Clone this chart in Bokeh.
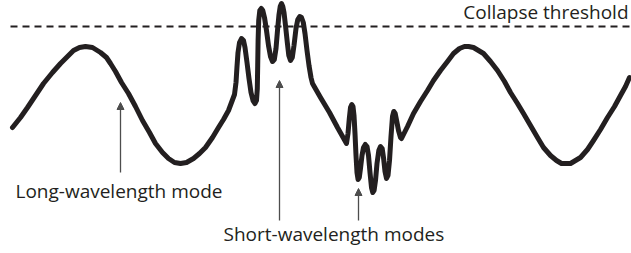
from bokeh.plotting import figure
from bokeh.models import Range1d, Label, Arrow, NormalHead
from bokeh.embed import file_html
from bokeh.resources import INLINE

wave_x = [12, 20, 27, 35, 43, 52, 60, 67, 73, 79, 85, 92, 100, 106, 110, 115, 121, 128, 135, 142,
          149, 155, 162, 168, 174, 180, 186, 193, 199, 205, 212, 218, 223, 228, 234,
          235.5, 236.5, 237.5, 239, 241, 243, 244.5, 246.5, 248.5, 250.5, 252.5, 254.5, 256, 256.8,
          257.2, 257.6, 258.2, 259.3, 260.8, 262.3, 264, 266, 268, 270, 272, 273.8, 275.5, 277, 278.5,
          279.7, 281, 282.3, 283.5, 285, 286.8, 288.3, 290, 291.8, 293.5, 295.5, 297.3, 299.2, 301,
          302.8, 304.5, 306.5, 308.5, 310.5, 312, 320, 329, 337, 346,
          347.5, 348.8, 350, 351.3, 352.5, 353.5, 354.5, 355.5, 356.5, 357.6, 358.8, 360, 361.5, 363,
          364.8, 366.5, 368, 369.5, 371, 372.3, 373.6, 375, 376.5, 378.3, 380, 381.7, 383, 384.5, 386,
          387.5, 389, 390.5, 392, 393.3, 394.7, 396.3, 398, 400, 401,
          407, 413, 420, 427, 433, 440, 447, 453, 459, 464, 468, 473, 478, 483, 490, 497, 504, 510,
          517, 523, 530, 537, 543, 550, 556, 561, 565, 570, 575, 580, 587, 593, 600, 607, 614, 620,
          625, 629]
wave_depth = [127, 117, 107, 95, 83, 72, 63, 56, 50, 47, 46, 47, 52, 57, 63, 71, 82, 93, 106, 120,
              132, 143, 152, 158, 162, 163, 162, 158, 153, 147, 137, 127, 119, 110, 94,
              82, 66, 52, 42, 38, 40, 47, 62, 78, 92, 100, 103, 100, 88,
              65, 40, 20, 10, 8, 10, 17, 30, 45, 56, 61, 59, 48, 30, 14,
              6, 3, 6, 12, 25, 42, 55, 60, 57, 45, 28, 19, 16, 17,
              22, 33, 50, 65, 77, 83, 97, 112, 127, 143,
              133, 118, 107, 104, 106, 115, 133, 155, 172, 179, 177, 168, 155, 147,
              144, 146, 155, 172, 187, 192, 190, 180, 163, 150, 146, 148, 157, 171, 178,
              175, 160, 136, 116, 111, 113, 121, 130, 137, 138,
              126, 113, 101, 90, 80, 70, 61, 53, 48, 46, 46, 47, 50, 53, 61, 70, 81, 92,
              103, 113, 125, 137, 147, 155, 160, 163, 163, 163, 160, 157, 149, 140, 129, 117, 106, 95,
              86, 77]

threshold_depth = 26
threshold_x = [10, 631]

label_texts = ["Collapse threshold", "Long-wavelength mode", "Short-wavelength modes"]
label_x = [628, 15, 223]
label_y = [11, 190, 233]
label_align = ["right", "left", "left"]

# arrows: (x, tail depth, tip depth)
arrow_x = [120, 279, 358]
arrow_tail = [172, 220, 220]
arrow_tip = [102, 80, 188]

INK = "#231f20"
ARROW = "#4d4d4d"

p = figure(width=631, height=253, output_backend="svg", toolbar_location=None,
           x_range=Range1d(0, 631), y_range=Range1d(253, 0),
           x_axis_type=None, y_axis_type=None, min_border=0,
           outline_line_color=None, background_fill_color="white", border_fill_color="white")
p.xgrid.visible = False
p.ygrid.visible = False

p.line(threshold_x, [threshold_depth, threshold_depth], line_color=INK, line_width=2,
       line_dash="7 5")

p.line(wave_x, wave_depth, line_color=INK, line_width=5, line_join="round", line_cap="round")

for ax, at, ah in zip(arrow_x, arrow_tail, arrow_tip):
    p.add_layout(Arrow(end=NormalHead(size=7, fill_color=ARROW, line_color=ARROW, line_width=1),
                       x_start=ax, y_start=at, x_end=ax, y_end=ah,
                       line_color=ARROW, line_width=1.3))

for t, lx, ly, la in zip(label_texts, label_x, label_y, label_align):
    p.add_layout(Label(x=lx, y=ly, text=t, text_align=la, text_baseline="alphabetic",
                       text_font="Open Sans", text_font_size="19px", text_color=INK))

open("out.html", "w").write(file_html(p, INLINE))
